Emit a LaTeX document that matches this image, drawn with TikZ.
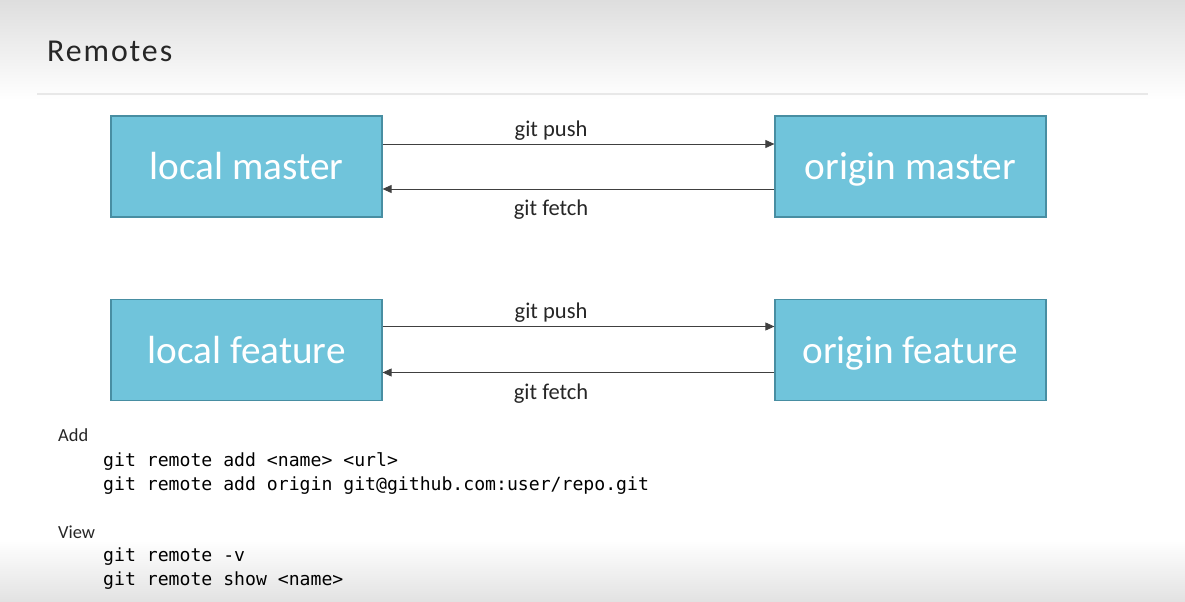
\documentclass[tikz,border=0pt]{standalone}
\usepackage{fontspec}
\setmainfont{Carlito}
\setmonofont{DejaVu Sans Mono}
\newfontfamily\titlefont[LetterSpace=6]{Carlito}
\usetikzlibrary{arrows.meta}
\definecolor{boxfill}{RGB}{112,196,219}
\definecolor{boxline}{RGB}{72,142,162}
\definecolor{arrowline}{RGB}{64,64,64}
\definecolor{headgrey}{RGB}{222,222,222}
\definecolor{rulegrey}{RGB}{232,232,232}
\definecolor{footgrey}{RGB}{226,226,226}
\definecolor{textgrey}{RGB}{38,38,38}

\begin{document}
\begin{tikzpicture}[x=1bp,y=-1bp,
    branch/.style={draw=boxline,line width=1.2bp,fill=boxfill,text=white,
      minimum width=271bp,minimum height=101bp,inner sep=0pt,
      text height=36bp,text depth=9bp,
      font=\fontsize{39.4}{46}\selectfont},
    link/.style={draw=arrowline,line width=0.8bp,-{Triangle[length=9bp,width=8bp]}},
    pushlabel/.style={pos=0.43,anchor=base,inner sep=0pt,yshift=7.5bp,text=textgrey,
      font=\fontsize{22.6}{26}\selectfont},
    fetchlabel/.style={pos=0.57,anchor=base,inner sep=0pt,yshift=-27bp,text=textgrey,
      font=\fontsize{22.6}{26}\selectfont},
    heading/.style={anchor=base west,inner sep=0pt,text=textgrey,
      font=\fontsize{18.5}{22}\selectfont},
    codeline/.style={anchor=base west,inner sep=0pt,text=black,
      font=\ttfamily\fontsize{18.2}{22}\selectfont}]
  \useasboundingbox (0,0) rectangle (1185,602);
  \shade[top color=headgrey,bottom color=white] (0,0) rectangle (1185,100);
  \shade[top color=white,bottom color=footgrey] (0,540) rectangle (1185,602);
  \draw[rulegrey,line width=1.5bp] (37,94) -- (1148,94);
  \node[anchor=base west,inner sep=0pt,text=textgrey,
    font=\titlefont\fontsize{32}{38}\selectfont] (title) at (47,62) {Remotes};

  \node[branch] (lm) at (246.5,166.5) {local master};
  \node[branch] (om) at (910.5,166.5) {origin master};
  \node[branch] (lf) at (246.5,350) {local feature};
  \node[branch] (of) at (910.5,350) {origin feature};

  \begin{scope}
    \draw[link] ([yshift=22.5bp]lm.east) -- node[pushlabel] {git push} ([yshift=22.5bp]om.west);
    \draw[link] ([yshift=-22.5bp]om.west) -- node[fetchlabel] {git fetch} ([yshift=-22.5bp]lm.east);
    \draw[link] ([yshift=23.5bp]lf.east) -- node[pushlabel] {git push} ([yshift=23.5bp]of.west);
    \draw[link] ([yshift=-22.5bp]of.west) -- node[fetchlabel] {git fetch} ([yshift=-22.5bp]lf.east);
  \end{scope}

  \node[heading] (add) at (58,441) {Add};
  \node[codeline] (add1) at (103,466.5) {git remote add <name> <url>};
  \node[codeline] (add2) at (103,490.5) {git remote add origin git@github.com:user/repo.git};
  \node[heading] (view) at (58,538) {View};
  \node[codeline] (view1) at (103,561.5) {git remote -v};
  \node[codeline] (view2) at (103,585.5) {git remote show <name>};
\end{tikzpicture}
\end{document}
